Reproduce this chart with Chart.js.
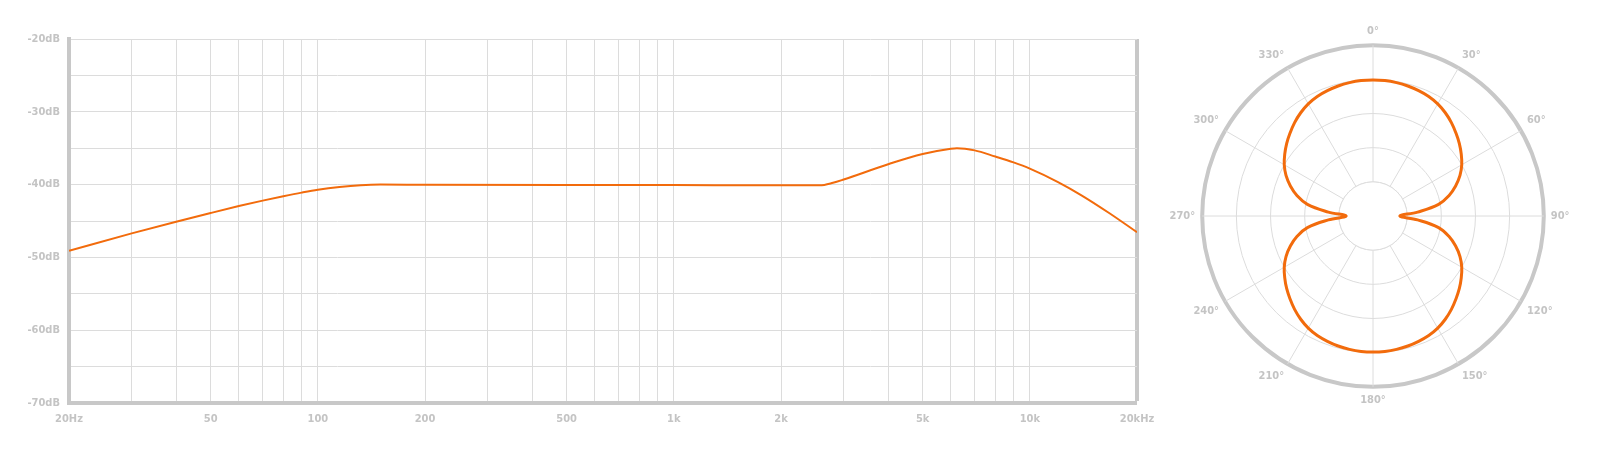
<!DOCTYPE html>
<html>

<head>
    <title>Frequency response / polar pattern</title>
    <script src="https://cdn.jsdelivr.net/npm/chart.js@4.4.1/dist/chart.umd.min.js"></script>
    <style>
        html, body { margin: 0; padding: 0; background: #fff; }
        #freqBox { position: absolute; left: 0; top: 0; width: 1180px; height: 463px; }
        #polarBox { position: absolute; left: 1152px; top: 25px; width: 440px; height: 382px; }
    </style>
    <script>
        // frequency response (Hz, dB)
        var freqHz = [20, 30, 40, 50, 60, 70, 80, 90, 100, 115, 132, 150, 200, 500, 1000, 2000, 2570, 2800, 3000,
            4000, 5000, 6000, 6240, 7000, 8000, 9000, 10000, 12000, 14000, 16700, 20000];
        var freqDb = [-49.1, -46.7, -45.1, -43.9, -42.95, -42.2, -41.6, -41.1, -40.7, -40.32, -40.08, -40.0, -40.02, -40.05, -40.07, -40.1, -40.1, -39.75, -39.3,
            -37.2, -35.8, -35.07, -35.0, -35.3, -36.15, -36.95, -37.8, -39.65, -41.5, -43.9, -46.55];

        var gridHz = [20, 30, 40, 50, 60, 70, 80, 90, 100, 200, 300, 400, 500, 600, 700, 800, 900,
            1000, 2000, 3000, 4000, 5000, 6000, 7000, 8000, 9000, 10000, 20000];
        var labelHz = [20, 50, 100, 200, 500, 1000, 2000, 5000, 10000, 20000];
        var labelHzText = ['20Hz', '50', '100', '200', '500', '1k', '2k', '5k', '10k', '20kHz'];
        var gridDb = [-70, -65, -60, -55, -50, -45, -40, -35, -30, -25, -20];

        // polar pattern, every 5 degrees from 0 clockwise (dB, ring every 5 dB)
        var polarAngles = [];
        for (var a = 0; a < 360; a += 5) polarAngles.push(a);
        var polarDb = [
            -5.08, -5.1, -5.18, -5.3, -5.48, -5.7, -6.05, -6.55, -7.15, -7.83, -8.5, -9.23,
            -10.0, -10.95, -12.13, -13.5, -15.25, -18.45, -21.07, -18.45, -15.25, -13.5, -12.13, -10.95,
            -10.0, -9.23, -8.5, -7.83, -7.15, -6.55, -6.05, -5.7, -5.48, -5.3, -5.18, -5.1,
            -5.08, -5.1, -5.18, -5.3, -5.48, -5.7, -6.05, -6.55, -7.15, -7.83, -8.5, -9.23,
            -10.0, -10.95, -12.13, -13.5, -15.25, -18.45, -21.07, -18.45, -15.25, -13.5, -12.13, -10.95,
            -10.0, -9.23, -8.5, -7.83, -7.15, -6.55, -6.05, -5.7, -5.48, -5.3, -5.18, -5.1
        ];

        var orange = '#f26b0c';
        var gridGrey = '#dcdcdc';
        var frameGrey = '#c8c8c8';

        Chart.defaults.font.family = "'DejaVu Sans Condensed', 'Liberation Sans Narrow', sans-serif";
        Chart.defaults.font.weight = 'bold';
        Chart.defaults.font.size = 11;
        Chart.defaults.color = '#c4c4c4';

        // blank out the spokes inside the first ring
        var innerHub = {
            id: 'innerHub',
            beforeDatasetsDraw: function (chart) {
                var r = chart.scales.r;
                var rad = r.getDistanceFromCenterForValue(-20);
                var ctx = chart.ctx;
                ctx.save();
                ctx.beginPath();
                ctx.arc(r.xCenter, r.yCenter, rad, 0, Math.PI * 2);
                ctx.fillStyle = '#fff';
                ctx.fill();
                ctx.lineWidth = 1;
                ctx.strokeStyle = gridGrey;
                ctx.stroke();
                ctx.restore();
            }
        };

        window.addEventListener('load', function () {
            var pts = freqHz.map(function (f, i) { return { x: f, y: freqDb[i] }; });

            new Chart(document.getElementById('freq').getContext('2d'), {
                type: 'line',
                data: {
                    datasets: [{
                        data: pts,
                        borderColor: orange,
                        borderWidth: 2,
                        pointRadius: 0,
                        fill: false,
                        cubicInterpolationMode: 'monotone'
                    }]
                },
                options: {
                    animation: false,
                    responsive: true,
                    maintainAspectRatio: false,
                    layout: { padding: { top: 39, right: 43, bottom: 0, left: 0 } },
                    plugins: { legend: { display: false }, tooltip: { enabled: false } },
                    scales: {
                        x: {
                            type: 'logarithmic',
                            min: 20,
                            max: 20000,
                            afterBuildTicks: function (s) {
                                s.ticks = gridHz.map(function (v) { return { value: v }; });
                            },
                            afterFit: function (s) { s.height = 60; },
                            ticks: {
                                autoSkip: false,
                                maxRotation: 0,
                                padding: 10,
                                callback: function (v) {
                                    var i = labelHz.indexOf(v);
                                    return i < 0 ? '' : labelHzText[i];
                                }
                            },
                            grid: {
                                drawTicks: false,
                                color: function (c) { return c.tick && c.tick.value === 20000 ? frameGrey : gridGrey; },
                                lineWidth: function (c) {
                                    if (!c.tick) return 1;
                                    if (c.tick.value === 20) return 0;
                                    return c.tick.value === 20000 ? 4 : 1;
                                }
                            },
                            border: { display: true, width: 4, color: frameGrey }
                        },
                        y: {
                            min: -70,
                            max: -20,
                            afterBuildTicks: function (s) {
                                s.ticks = gridDb.map(function (v) { return { value: v }; });
                            },
                            afterFit: function (s) { s.width = 69; },
                            ticks: {
                                padding: 9,
                                callback: function (v) { return v % 10 === 0 ? v + 'dB' : ''; }
                            },
                            grid: {
                                drawTicks: false,
                                color: gridGrey,
                                lineWidth: function (c) { return c.tick && c.tick.value === -70 ? 0 : 1; }
                            },
                            border: { display: true, width: 4, color: frameGrey }
                        }
                    }
                }
            });

            new Chart(document.getElementById('polar').getContext('2d'), {
                type: 'radar',
                data: {
                    labels: polarAngles,
                    datasets: [{
                        data: polarDb,
                        borderColor: orange,
                        borderWidth: 3,
                        pointRadius: 0,
                        fill: false,
                        tension: 0.4
                    }]
                },
                plugins: [innerHub],
                options: {
                    animation: false,
                    responsive: true,
                    maintainAspectRatio: false,
                    plugins: { legend: { display: false }, tooltip: { enabled: false } },
                    scales: {
                        r: {
                            min: -25,
                            max: 0,
                            ticks: { display: false, stepSize: 5 },
                            grid: {
                                circular: true,
                                color: function (c) { return c.index === 5 ? frameGrey : gridGrey; },
                                lineWidth: function (c) { return c.index === 0 ? 0 : (c.index === 5 ? 4 : 1); }
                            },
                            angleLines: {
                                color: function (c) { return c.index % 6 === 0 ? gridGrey : 'rgba(0,0,0,0)'; },
                                lineWidth: 1
                            },
                            pointLabels: {
                                padding: 7,
                                font: { size: 11, weight: 'bold' },
                                color: '#c4c4c4',
                                callback: function (lab) { return lab % 30 === 0 ? lab + '°' : ''; }
                            }
                        }
                    }
                }
            });
        });
    </script>
</head>

<body>
    <div id="freqBox"><canvas id="freq"></canvas></div>
    <div id="polarBox"><canvas id="polar"></canvas></div>
</body>

</html>
